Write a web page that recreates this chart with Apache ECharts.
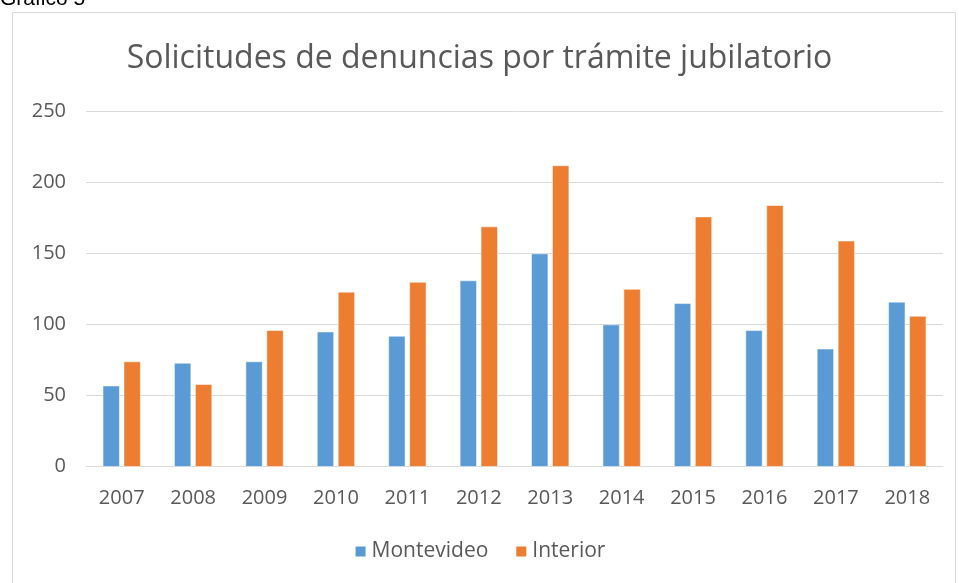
<!DOCTYPE html>
<html>
<head>
<meta charset="utf-8">
<script src="https://cdn.jsdelivr.net/npm/echarts@6/dist/echarts.min.js"></script>
<style>
  html, body { margin: 0; padding: 0; background: #fff; }
  #chart { width: 959px; height: 583px; }
</style>
</head>
<body>
<div id="chart"></div>
<script>
// datos
const years = ['2007', '2008', '2009', '2010', '2011', '2012', '2013', '2014', '2015', '2016', '2017', '2018']
const montevideo = [57, 73, 74, 95, 92, 131, 150, 100, 115, 96, 83, 116]
const interior = [74, 58, 96, 123, 130, 169, 212, 125, 176, 184, 159, 106]
const yTicks = [0, 50, 100, 150, 200, 250]

const font = '"Open Sans", "Noto Sans", sans-serif'
const grey = '#595959'

const chart = echarts.init(document.getElementById('chart'))

chart.setOption({
    animation: false,
    graphic: [
        {
            // marco del gráfico
            type: 'rect',
            shape: { x: 12.5, y: 12.5, width: 943, height: 580 },
            style: { fill: 'none', stroke: '#d9d9d9', lineWidth: 1 }
        },
        {
            type: 'text',
            x: 0,
            y: 10,
            style: {
                text: 'Gráfico 5',
                font: '21px "Liberation Sans", Arial',
                fill: '#000',
                textVerticalAlign: 'bottom'
            }
        }
    ],
    title: {
        text: 'Solicitudes de denuncias por trámite jubilatorio',
        left: 'center',
        top: 38,
        textStyle: { fontFamily: font, fontSize: 32, fontWeight: 'normal', color: grey }
    },
    legend: {
        bottom: 16,
        left: 'center',
        itemWidth: 12,
        itemHeight: 12,
        itemGap: 26,
        icon: 'rect',
        textStyle: { fontFamily: font, fontSize: 21, color: grey }
    },
    grid: { left: 86, right: 16, top: 111.5, bottom: 116.3, containLabel: false },
    xAxis: {
        type: 'category',
        data: years,
        axisTick: { show: false },
        axisLine: { lineStyle: { color: '#d9d9d9', width: 1 } },
        axisLabel: { fontFamily: font, fontSize: 20, color: grey, margin: 22 }
    },
    yAxis: {
        type: 'value',
        min: yTicks[0],
        max: yTicks[yTicks.length - 1],
        interval: 50,
        axisLine: { show: false },
        axisTick: { show: false },
        splitLine: { lineStyle: { color: '#d9d9d9', width: 1 } },
        axisLabel: { fontFamily: font, fontSize: 20, color: grey, margin: 20 }
    },
    series: [
        {
            name: 'Montevideo',
            type: 'bar',
            data: montevideo,
            barGap: '24%',
            barCategoryGap: '47%',
            itemStyle: { color: '#5B9BD5', borderColor: '#fff', borderWidth: 0.5 }
        },
        {
            name: 'Interior',
            type: 'bar',
            data: interior,
            itemStyle: { color: '#ED7D31', borderColor: '#fff', borderWidth: 0.5 }
        }
    ]
})
</script>
</body>
</html>
